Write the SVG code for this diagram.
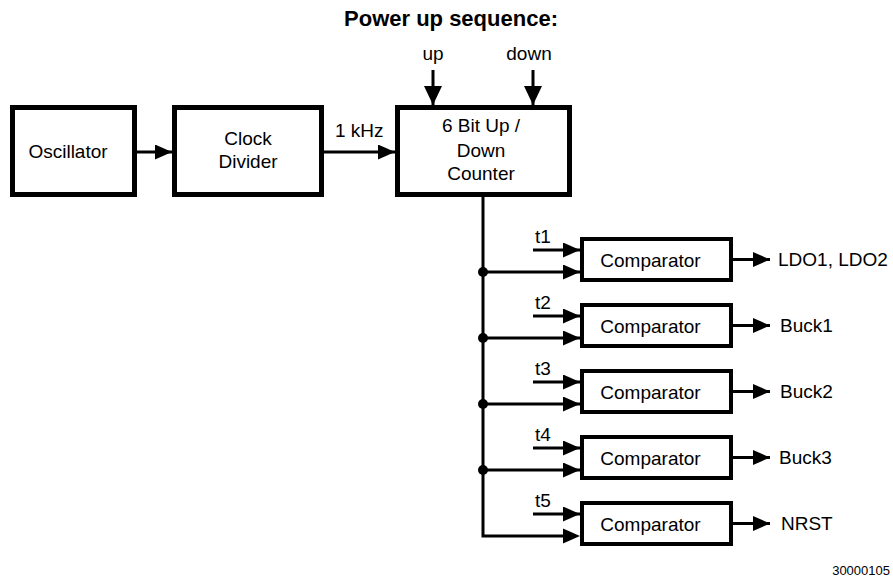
<svg xmlns="http://www.w3.org/2000/svg" width="893" height="581" viewBox="0 0 893 581">
<style>
  text { font-family: "Liberation Sans", Arial, sans-serif; font-size: 19px; fill: #000; }
  .title { font-weight: bold; font-size: 22px; }
  .small { font-size: 13px; }
  .big { fill: #fff; stroke: #000; stroke-width: 5; }
  .cmp { fill: #fff; stroke: #000; stroke-width: 4; }
  .wire { fill: none; stroke: #000; stroke-width: 3; }
  .arr { marker-end: url(#ah); }
  .arrv { marker-end: url(#ahv); }
</style>
<defs>
  <marker id="ah" viewBox="0 0 17 15" refX="17" refY="7.5" markerWidth="17" markerHeight="15" markerUnits="userSpaceOnUse" orient="auto">
    <path d="M0,0 L17,7.5 L0,15 Z" fill="#000"/>
  </marker>
  <marker id="ahv" viewBox="0 0 19 18" refX="19" refY="9" markerWidth="19" markerHeight="18" markerUnits="userSpaceOnUse" orient="auto">
    <path d="M0,0 L19,9 L0,18 Z" fill="#000"/>
  </marker>
</defs>
<rect width="893" height="581" fill="#fff"/>
<text class="title" x="451" y="26" text-anchor="middle">Power up sequence:</text>

<g id="connectors">
  <line class="wire arr" x1="137" y1="152" x2="172" y2="152"/>
  <line class="wire arr" x1="324" y1="152" x2="395" y2="152"/>
  <line class="wire arrv" x1="433" y1="70" x2="433" y2="105"/>
  <line class="wire arrv" x1="533" y1="70" x2="533" y2="105"/>
  <path class="wire" d="M483,197 V536 H563"/>
  <path d="M563,528.5 L580,536 L563,543.5 Z" fill="#000"/>
  <line class="wire arr" x1="483" y1="272" x2="580" y2="272"/>
  <line class="wire arr" x1="483" y1="338" x2="580" y2="338"/>
  <line class="wire arr" x1="483" y1="404" x2="580" y2="404"/>
  <line class="wire arr" x1="483" y1="470" x2="580" y2="470"/>
  <circle cx="483" cy="272" r="5" fill="#000"/>
  <circle cx="483" cy="338" r="5" fill="#000"/>
  <circle cx="483" cy="404" r="5" fill="#000"/>
  <circle cx="483" cy="470" r="5" fill="#000"/>
  <line class="wire arr" x1="533" y1="250" x2="580" y2="250"/>
  <line class="wire arr" x1="533" y1="316" x2="580" y2="316"/>
  <line class="wire arr" x1="533" y1="382" x2="580" y2="382"/>
  <line class="wire arr" x1="533" y1="448" x2="580" y2="448"/>
  <line class="wire arr" x1="533" y1="514" x2="580" y2="514"/>
  <line class="wire arr" x1="733" y1="259.5" x2="770" y2="259.5"/>
  <line class="wire arr" x1="733" y1="325.5" x2="770" y2="325.5"/>
  <line class="wire arr" x1="733" y1="391.5" x2="770" y2="391.5"/>
  <line class="wire arr" x1="733" y1="457.5" x2="770" y2="457.5"/>
  <line class="wire arr" x1="733" y1="523.5" x2="770" y2="523.5"/>
</g>

<text x="335" y="137">1 kHz</text>
<text x="433" y="60" text-anchor="middle">up</text>
<text x="529" y="60" text-anchor="middle">down</text>
<text x="535" y="243">t1</text>
<text x="535" y="309">t2</text>
<text x="535" y="375">t3</text>
<text x="535" y="441">t4</text>
<text x="535" y="507">t5</text>
<text x="778" y="266">LDO1, LDO2</text>
<text x="780" y="332">Buck1</text>
<text x="780" y="398">Buck2</text>
<text x="779" y="464">Buck3</text>
<text x="781" y="530">NRST</text>
<text class="small" x="890" y="575" text-anchor="end">30000105</text>

<g id="oscillator">
  <rect class="big" x="12.5" y="107.5" width="122" height="87"/>
  <text x="68" y="158" text-anchor="middle">Oscillator</text>
</g>
<g id="clock-divider">
  <rect class="big" x="174.5" y="107.5" width="147" height="87"/>
  <text x="248" y="145" text-anchor="middle">Clock</text>
  <text x="248" y="168" text-anchor="middle">Divider</text>
</g>
<g id="counter">
  <rect class="big" x="397.5" y="107.5" width="172" height="87"/>
  <text x="481" y="132" text-anchor="middle">6 Bit Up /</text>
  <text x="481" y="157" text-anchor="middle">Down</text>
  <text x="481" y="180" text-anchor="middle">Counter</text>
</g>
<g id="comparator1">
  <rect class="cmp" x="582" y="239" width="149" height="41"/>
  <text x="650.5" y="266.5" text-anchor="middle">Comparator</text>
</g>
<g id="comparator2">
  <rect class="cmp" x="582" y="305" width="149" height="41"/>
  <text x="650.5" y="332.5" text-anchor="middle">Comparator</text>
</g>
<g id="comparator3">
  <rect class="cmp" x="582" y="371" width="149" height="41"/>
  <text x="650.5" y="398.5" text-anchor="middle">Comparator</text>
</g>
<g id="comparator4">
  <rect class="cmp" x="582" y="437" width="149" height="41"/>
  <text x="650.5" y="464.5" text-anchor="middle">Comparator</text>
</g>
<g id="comparator5">
  <rect class="cmp" x="582" y="503" width="149" height="41"/>
  <text x="650.5" y="530.5" text-anchor="middle">Comparator</text>
</g>
</svg>
